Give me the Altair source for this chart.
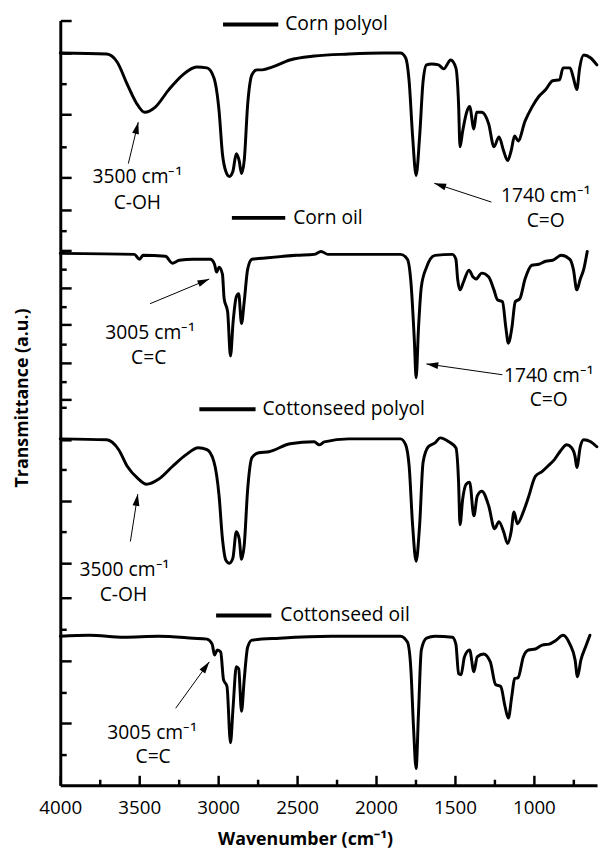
import math
import altair as alt
import pandas as pd

# ---------------- spectra (wavenumber cm-1, transmittance a.u. with vertical offsets) ----------------
corn_polyol_wn = [4000, 3706, 3640, 3575, 3520, 3465, 3400, 3312, 3224, 3137, 3071, 3027, 2994, 2973, 2951,
                  2929, 2907, 2885, 2867, 2852, 2835, 2813, 2786, 2754, 2721, 2655, 2546, 2392, 2173, 1954,
                  1845, 1812, 1790, 1768, 1746, 1724, 1702, 1680, 1648, 1604, 1571, 1527, 1494, 1477, 1468,
                  1451, 1424, 1407, 1380, 1363, 1330, 1286, 1253, 1221, 1192, 1166, 1144, 1122, 1100, 1056,
                  1013, 969, 925, 881, 837, 815, 771, 750, 728, 710, 684, 640, 601]
corn_polyol_t = [742, 741, 733, 710, 692, 682, 687, 705, 720, 728, 727, 717, 683, 640, 622,
                 617, 622, 640, 633, 620, 633, 690, 720, 725, 725, 728, 735, 739, 741, 742,
                 742, 737, 713, 657, 618, 657, 713, 730, 731, 730, 726, 735, 727, 690, 647,
                 663, 683, 688, 665, 682, 682, 670, 647, 657, 643, 633, 643, 658, 653, 673,
                 687, 698, 705, 714, 715, 727, 727, 717, 705, 727, 740, 737, 730]

corn_oil_wn = [4000, 3531, 3498, 3476, 3334, 3290, 3246, 3159, 3049, 3023, 3010, 2994, 2973, 2962, 2940,
               2922, 2905, 2885, 2870, 2852, 2835, 2813, 2786, 2721, 2502, 2392, 2348, 2305, 2173, 1845,
               1801, 1779, 1757, 1746, 1731, 1713, 1680, 1626, 1516, 1494, 1483, 1468, 1446, 1411, 1385,
               1367, 1330, 1286, 1253, 1231, 1199, 1177, 1162, 1140, 1118, 1089, 1056, 1013, 969, 925,
               881, 826, 772, 750, 728, 706, 684, 662]
corn_oil_t = [539, 538, 533, 537, 536, 529, 532, 533, 533, 528, 520, 525, 518, 493, 480,
              435, 470, 495, 498, 468, 490, 523, 533, 534, 537, 538, 541, 538, 538, 538,
              533, 510, 450, 413, 463, 505, 525, 537, 538, 533, 513, 502, 510, 522, 515,
              513, 519, 515, 502, 492, 490, 463, 448, 463, 490, 493, 513, 527, 528, 531,
              532, 537, 533, 523, 502, 513, 523, 541]

cotton_polyol_wn = [4000, 3706, 3630, 3575, 3509, 3454, 3378, 3290, 3203, 3126, 3071, 3027, 2994, 2973, 2951,
                    2929, 2907, 2885, 2867, 2852, 2835, 2813, 2786, 2743, 2677, 2545, 2392, 2359, 2327, 2173,
                    1845, 1812, 1790, 1768, 1746, 1724, 1702, 1669, 1626, 1593, 1538, 1494, 1477, 1468, 1451,
                    1429, 1407, 1380, 1359, 1330, 1286, 1249, 1221, 1192, 1166, 1144, 1126, 1105, 1067, 1034,
                    991, 947, 914, 870, 826, 793, 761, 739, 728, 706, 684, 640, 601]
cotton_polyol_t = [351, 350, 340, 323, 311, 305, 310, 323, 335, 342, 340, 328, 293, 250, 228,
                   225, 230, 257, 250, 229, 243, 300, 332, 337, 338, 346, 348, 345, 348, 351,
                   351, 345, 323, 263, 227, 263, 327, 343, 347, 352, 348, 342, 307, 264, 290,
                   305, 307, 273, 293, 298, 283, 260, 267, 257, 245, 257, 277, 265, 277, 292,
                   313, 318, 323, 330, 340, 345, 342, 333, 322, 343, 350, 348, 343]

cotton_oil_wn = [4000, 3816, 3597, 3378, 3159, 3071, 3038, 3023, 3005, 2984, 2966, 2944, 2922, 2905, 2885,
                 2870, 2852, 2835, 2813, 2786, 2611, 2283, 1845, 1801, 1779, 1762, 1746, 1731, 1713, 1680,
                 1626, 1516, 1494, 1477, 1461, 1440, 1407, 1380, 1359, 1319, 1276, 1243, 1210, 1183, 1162,
                 1140, 1122, 1100, 1067, 1034, 991, 947, 903, 859, 815, 772, 739, 724, 702, 673, 645]
cotton_oil_t = [151, 152, 150, 151, 149, 148, 143, 132, 137, 135, 107, 100, 43, 80, 120,
                118, 75, 107, 140, 147, 149, 151, 151, 145, 117, 57, 17, 73, 137, 149,
                151, 150, 143, 113, 112, 130, 137, 115, 130, 133, 125, 102, 100, 80, 68,
                90, 108, 109, 130, 137, 138, 142, 143, 147, 152, 143, 127, 110, 127, 140, 152]

series_names = ["Corn polyol", "Corn oil", "Cottonseed polyol", "Cottonseed oil"]
series_wn = [corn_polyol_wn, corn_oil_wn, cotton_polyol_wn, cotton_oil_wn]
series_t = [corn_polyol_t, corn_oil_t, cotton_polyol_t, cotton_oil_t]

# legend-style labels (line sample start/end wavenumber, level, text start)
legend_wn1 = [2969, 2913, 3119, 3013]
legend_wn2 = [2619, 2575, 2763, 2663]
legend_v = [771, 575, 381, 172]
legend_text_wn = [2575, 2525, 2719, 2606]

# peak annotations
ann_text = ["3500 cm⁻¹", "C-OH", "1740 cm⁻¹", "C=O", "3005 cm⁻¹", "C=C",
            "1740 cm⁻¹", "C=O", "3500 cm⁻¹", "C-OH", "3005 cm⁻¹", "C=C"]
ann_wn = [3512, 3512, 925, 925, 3431, 3440, 906, 906, 3594, 3600, 3419, 3412]
ann_v = [616, 590, 597, 572, 458, 433, 415, 390, 218, 193, 53, 28]

# arrows: tail -> head
arr_tail_wn = [3569, 1269, 3431, 1200, 3556, 3269]
arr_tail_v = [630, 591, 488, 416, 247, 78]
arr_head_wn = [3506, 1631, 3056, 1681, 3509, 3056]
arr_head_v = [672, 610, 513, 427, 295, 125]

# axis ticks
x_label_values = [4000, 3500, 3000, 2500, 2000, 1500, 1000]
x_tick_values = [4000, 3750, 3500, 3250, 3000, 2750, 2500, 2250, 2000, 1750, 1500, 1250, 1000, 750]
y_tick_values = [775, 742, 711, 680, 647, 616, 583, 562, 542, 523, 504, 485, 467, 447, 428, 409, 391,
                 383, 350, 320, 288, 257, 225, 190, 158, 126, 94, 63, 31]
y_major_ticks = [775, 742, 680, 616, 583, 542, 504, 467, 428, 391, 350, 288, 225, 190, 126, 63]

# ---------------- build tables ----------------
rows = []
for name, wns, ts in zip(series_names, series_wn, series_t):
    for i, (w, t) in enumerate(zip(wns, ts)):
        rows.append({"series": name, "wn": w, "t": t, "idx": i})
spec_df = pd.DataFrame(rows)

leg_df = pd.DataFrame({"name": series_names, "wn1": legend_wn1, "wn2": legend_wn2,
                       "v": legend_v, "twn": legend_text_wn})
ann_df = pd.DataFrame({"text": ann_text, "wn": ann_wn, "v": ann_v})

W, H = 544, 775
XMIN, XMAX = 600, 4000
YMIN, YMAX = 0, 775
px_per_wn = W / (XMAX - XMIN)
px_per_v = H / (YMAX - YMIN)
angles = []
for tw, tv, hw, hv in zip(arr_tail_wn, arr_tail_v, arr_head_wn, arr_head_v):
    dxs = -(hw - tw) * px_per_wn
    dys = -(hv - tv) * px_per_v
    angles.append(math.degrees(math.atan2(dxs, -dys)) % 360)
arr_df = pd.DataFrame({"wn": arr_tail_wn, "v": arr_tail_v, "wn2": arr_head_wn,
                       "v2": arr_head_v, "angle": angles})

FONT = "Open Sans"
xscale = alt.Scale(domain=[XMIN, XMAX], reverse=True, nice=False, zero=False)
yscale = alt.Scale(domain=[YMIN, YMAX], nice=False, zero=False)

x_tick_test = "datum.value % 500 == 0"
y_tick_test = "indexof([" + ",".join(str(v) for v in y_major_ticks) + "], datum.value) >= 0"

x_main_axis = alt.Axis(orient="bottom", values=x_label_values, ticks=False, tickSize=0, grid=False,
                       domain=True, domainWidth=3, domainColor="black", labelFlush=False,
                       format="d",
                       labelFont=FONT, labelFontSize=19, labelColor="black", labelPadding=14,
                       title="Wavenumber (cm⁻¹)", titleFont=FONT, titleFontSize=18,
                       titleFontWeight="bold", titleColor="black", titleX=248, titleY=55,
                       titleBaseline="middle", titleAlign="center")
y_main_axis = alt.Axis(orient="left", ticks=False, labels=False, grid=False, domain=True,
                       domainWidth=3, domainColor="black",
                       title="Transmittance (a.u.)", titleFont=FONT, titleFontSize=18,
                       titleFontWeight="bold", titleColor="black", titleX=-38, titleY=382,
                       titleBaseline="middle", titleAlign="center", titleAngle=270)

x_tick_axis = alt.Axis(orient="top", offset=-H, values=x_tick_values, labels=False, domain=False,
                       grid=False, tickColor="black", tickWidth=2.5,
                       tickSize={"condition": {"test": x_tick_test, "value": 10}, "value": 6},
                       title=None)
y_tick_axis = alt.Axis(orient="right", offset=-W, values=y_tick_values, labels=False, domain=False,
                       grid=False, tickColor="black", tickWidth=2.5,
                       tickSize={"condition": {"test": y_tick_test, "value": 11}, "value": 6},
                       title=None)

lines = alt.Chart(spec_df).mark_line(color="black", strokeWidth=3, strokeJoin="round",
                                     strokeCap="round", interpolate="monotone").encode(
    x=alt.X("wn:Q", scale=xscale, axis=x_main_axis),
    y=alt.Y("t:Q", scale=yscale, axis=y_main_axis),
    detail="series:N",
    order="idx:Q",
)

leg_rules = alt.Chart(leg_df).mark_rule(color="black", strokeWidth=4).encode(
    x=alt.X("wn1:Q", scale=xscale, axis=x_tick_axis),
    x2="wn2:Q",
    y=alt.Y("v:Q", scale=yscale, axis=y_tick_axis),
)

leg_text = alt.Chart(leg_df).mark_text(font=FONT, fontSize=19.5, align="left", baseline="middle",
                                       color="black").encode(
    x=alt.X("twn:Q", scale=xscale, axis=None),
    y=alt.Y("v:Q", scale=yscale, axis=None),
    text="name:N",
)

ann_texts = alt.Chart(ann_df).mark_text(font=FONT, fontSize=19.5, align="center", baseline="middle",
                                        color="black").encode(
    x=alt.X("wn:Q", scale=xscale, axis=None),
    y=alt.Y("v:Q", scale=yscale, axis=None),
    text="text:N",
)

shafts = alt.Chart(arr_df).mark_rule(color="black", strokeWidth=1).encode(
    x=alt.X("wn:Q", scale=xscale, axis=None),
    x2="wn2:Q",
    y=alt.Y("v:Q", scale=yscale, axis=None),
    y2="v2:Q",
)

heads = alt.Chart(arr_df).mark_point(shape="M0,0L-0.7,2.4L0.7,2.4Z", filled=True, color="black",
                                     size=100, opacity=1).encode(
    x=alt.X("wn2:Q", scale=xscale, axis=None),
    y=alt.Y("v2:Q", scale=yscale, axis=None),
    angle=alt.Angle("angle:Q", scale=None),
)

chart = alt.layer(lines, leg_rules, leg_text, ann_texts, shafts, heads).resolve_axis(
    x="independent", y="independent"
).properties(
    width=W, height=H,
    autosize=alt.AutoSizeParams(type="none"),
    padding={"left": 53, "top": 7, "right": 2, "bottom": 60},
    background="white",
).configure_view(stroke=None)

chart.save("out.html", embed_options={"renderer": "svg", "actions": False})
